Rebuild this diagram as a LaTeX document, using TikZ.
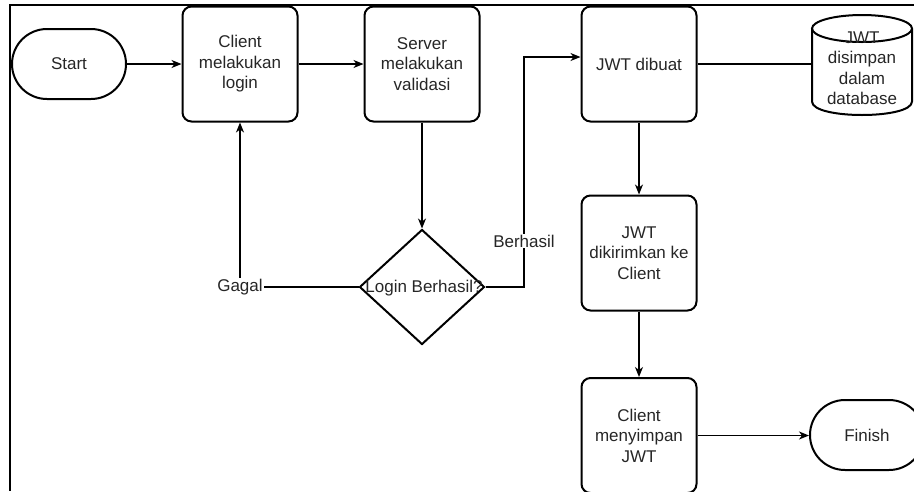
\documentclass[tikz,border=0pt]{standalone}
\usepackage{fontspec}
\setmainfont{Liberation Sans}
\usetikzlibrary{shapes.geometric,arrows.meta}
\begin{document}
\begin{tikzpicture}[x=1pt,y=-1pt,
  every node/.style={font=\fontsize{17}{20.5}\selectfont, text=black!85, align=center},
  terminal/.style={draw, line width=2pt, rounded corners=35pt, minimum width=114pt, minimum height=70pt, inner sep=0pt},
  process/.style={draw, line width=2pt, rounded corners=9pt, minimum width=115pt, minimum height=115pt, inner sep=0pt},
  decision/.style={draw, line width=2pt, diamond, minimum width=125pt, minimum height=115pt, inner sep=0pt},
  flow/.style={line width=1.3pt, -{Stealth[length=10pt,width=8pt,inset=3pt]}},
  link/.style={line width=1.3pt},
  tag/.style={fill=white, inner sep=1pt}
]
\useasboundingbox (0,0) rectangle (914,491);

% sheet border (top and left edges)
\draw[line width=2.5pt] (914,5) -- (10,5) -- (10,491);

% main flow
\node[terminal] (start) at (69,64) {Start};
\node[process] (login) at (240,64) {Client\\melakukan\\login};
\node[process] (valid) at (422,64) {Server\\melakukan\\validasi};
\node[decision] (check) at (422,287) {};
\node (checktext) at (424,288) {Login Berhasil?};
\node[process] (make) at (639,64) {JWT dibuat};
\node[process] (send) at (639,253) {JWT\\dikirimkan ke\\Client};
\node[process] (keep) at (639,435.5) {Client\\menyimpan\\JWT};
\node[terminal] (finish) at (867,435) {Finish};

% database cylinder
\node[minimum width=100pt, minimum height=100pt, inner sep=0pt] (db) at (862,65) {};
\draw[line width=2pt] (862,28.5) ellipse [x radius=50, y radius=13.5];
\draw[line width=2pt] (812,28.5) -- (812,101.5) .. controls (812,119.5) and (912,119.5) .. (912,101.5) -- (912,28.5);
\node (dbtext) at (862,68) {JWT\\disimpan\\dalam\\database};

% connectors
\draw[flow] (start) -- (login);
\draw[flow] (login) -- (valid);
\draw[flow] (valid) -- (check);
\draw[flow] (check.west) -| node[tag] {Gagal} (login.south);
\coordinate (turn) at (524,287);
\draw[flow] (check.east) -- (turn) |- node[tag, pos=0.1] {Berhasil} ([yshift=7pt]make.west);
\draw[link] (make) -- (make -| db.west);
\draw[flow] (make) -- (send);
\draw[flow] (send) -- (keep);
\draw[flow] (keep.east) -- (keep.east -| finish.west);
\end{tikzpicture}
\end{document}
